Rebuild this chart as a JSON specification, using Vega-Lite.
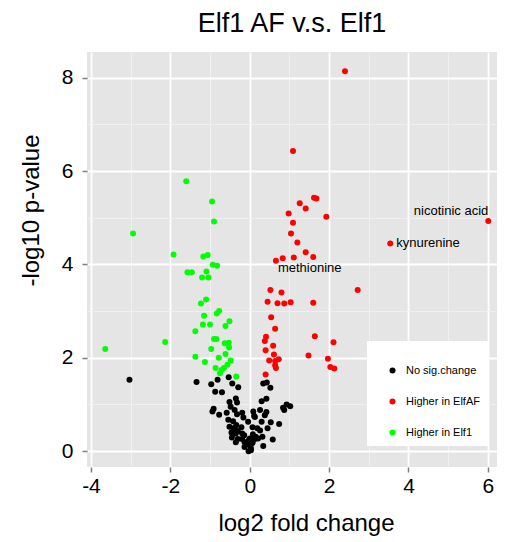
{
  "$schema": "https://vega.github.io/schema/vega-lite/v6.json",
  "width": 410,
  "height": 415,
  "autosize": {"type": "none"},
  "padding": {"left": 87, "top": 52, "right": 10, "bottom": 75},
  "background": "white",
  "title": {"text": "Elf1 AF v.s. Elf1", "fontSize": 27, "font": "Liberation Sans", "fontWeight": "normal", "color": "black", "anchor": "middle", "offset": 14},
  "config": {"view": {"fill": "#E5E5E5", "stroke": null}, "font": "Liberation Sans"},
  "data": {"values": [
    {"lfc": -1.60, "p": 5.78, "group": "Higher in Elf1"},
    {"lfc": -0.95, "p": 5.35, "group": "Higher in Elf1"},
    {"lfc": -0.90, "p": 4.92, "group": "Higher in Elf1"},
    {"lfc": -2.94, "p": 4.66, "group": "Higher in Elf1"},
    {"lfc": -1.92, "p": 4.21, "group": "Higher in Elf1"},
    {"lfc": -1.17, "p": 4.17, "group": "Higher in Elf1"},
    {"lfc": -1.06, "p": 4.20, "group": "Higher in Elf1"},
    {"lfc": -0.93, "p": 3.99, "group": "Higher in Elf1"},
    {"lfc": -0.82, "p": 3.97, "group": "Higher in Elf1"},
    {"lfc": -1.57, "p": 3.83, "group": "Higher in Elf1"},
    {"lfc": -1.46, "p": 3.83, "group": "Higher in Elf1"},
    {"lfc": -1.09, "p": 3.85, "group": "Higher in Elf1"},
    {"lfc": -1.20, "p": 3.72, "group": "Higher in Elf1"},
    {"lfc": -1.04, "p": 3.72, "group": "Higher in Elf1"},
    {"lfc": -1.10, "p": 3.25, "group": "Higher in Elf1"},
    {"lfc": -1.23, "p": 3.16, "group": "Higher in Elf1"},
    {"lfc": -0.83, "p": 2.95, "group": "Higher in Elf1"},
    {"lfc": -0.77, "p": 3.00, "group": "Higher in Elf1"},
    {"lfc": -1.15, "p": 2.90, "group": "Higher in Elf1"},
    {"lfc": -1.18, "p": 2.71, "group": "Higher in Elf1"},
    {"lfc": -1.00, "p": 2.71, "group": "Higher in Elf1"},
    {"lfc": -0.51, "p": 2.78, "group": "Higher in Elf1"},
    {"lfc": -0.61, "p": 2.68, "group": "Higher in Elf1"},
    {"lfc": -1.37, "p": 2.57, "group": "Higher in Elf1"},
    {"lfc": -2.13, "p": 2.34, "group": "Higher in Elf1"},
    {"lfc": -0.90, "p": 2.40, "group": "Higher in Elf1"},
    {"lfc": -0.84, "p": 2.40, "group": "Higher in Elf1"},
    {"lfc": -0.63, "p": 2.31, "group": "Higher in Elf1"},
    {"lfc": -0.53, "p": 2.32, "group": "Higher in Elf1"},
    {"lfc": -0.52, "p": 2.22, "group": "Higher in Elf1"},
    {"lfc": -0.97, "p": 2.19, "group": "Higher in Elf1"},
    {"lfc": -3.64, "p": 2.19, "group": "Higher in Elf1"},
    {"lfc": -0.61, "p": 2.08, "group": "Higher in Elf1"},
    {"lfc": -1.37, "p": 2.02, "group": "Higher in Elf1"},
    {"lfc": -0.78, "p": 2.00, "group": "Higher in Elf1"},
    {"lfc": -0.48, "p": 1.94, "group": "Higher in Elf1"},
    {"lfc": -1.13, "p": 1.91, "group": "Higher in Elf1"},
    {"lfc": -0.56, "p": 1.85, "group": "Higher in Elf1"},
    {"lfc": -0.86, "p": 1.78, "group": "Higher in Elf1"},
    {"lfc": -0.65, "p": 1.78, "group": "Higher in Elf1"},
    {"lfc": -0.71, "p": 1.74, "group": "Higher in Elf1"},
    {"lfc": -0.75, "p": 1.67, "group": "Higher in Elf1"},
    {"lfc": -0.34, "p": 1.60, "group": "Higher in Elf1"},
    {"lfc": 2.40, "p": 8.14, "group": "Higher in ElfAF"},
    {"lfc": 1.09, "p": 6.43, "group": "Higher in ElfAF"},
    {"lfc": 6.01, "p": 4.93, "group": "Higher in ElfAF", "label": "nicotinic acid"},
    {"lfc": 3.54, "p": 4.45, "group": "Higher in ElfAF", "label": "kynurenine"},
    {"lfc": 1.26, "p": 5.31, "group": "Higher in ElfAF"},
    {"lfc": 1.62, "p": 5.43, "group": "Higher in ElfAF"},
    {"lfc": 1.68, "p": 5.41, "group": "Higher in ElfAF"},
    {"lfc": 1.41, "p": 5.20, "group": "Higher in ElfAF"},
    {"lfc": 0.98, "p": 5.09, "group": "Higher in ElfAF"},
    {"lfc": 1.93, "p": 5.02, "group": "Higher in ElfAF"},
    {"lfc": 1.09, "p": 4.89, "group": "Higher in ElfAF"},
    {"lfc": 1.04, "p": 4.66, "group": "Higher in ElfAF"},
    {"lfc": 1.20, "p": 4.47, "group": "Higher in ElfAF"},
    {"lfc": 1.41, "p": 4.26, "group": "Higher in ElfAF"},
    {"lfc": 1.60, "p": 4.16, "group": "Higher in ElfAF"},
    {"lfc": 1.11, "p": 4.15, "group": "Higher in ElfAF"},
    {"lfc": 0.83, "p": 4.13, "group": "Higher in ElfAF"},
    {"lfc": 0.66, "p": 4.08, "group": "Higher in ElfAF", "label": "methionine"},
    {"lfc": 0.52, "p": 3.45, "group": "Higher in ElfAF"},
    {"lfc": 2.72, "p": 3.45, "group": "Higher in ElfAF"},
    {"lfc": 0.80, "p": 3.40, "group": "Higher in ElfAF"},
    {"lfc": 0.45, "p": 3.20, "group": "Higher in ElfAF"},
    {"lfc": 0.70, "p": 3.17, "group": "Higher in ElfAF"},
    {"lfc": 0.87, "p": 3.16, "group": "Higher in ElfAF"},
    {"lfc": 1.03, "p": 3.19, "group": "Higher in ElfAF"},
    {"lfc": 1.60, "p": 3.18, "group": "Higher in ElfAF"},
    {"lfc": 0.54, "p": 2.87, "group": "Higher in ElfAF"},
    {"lfc": 0.64, "p": 2.62, "group": "Higher in ElfAF"},
    {"lfc": 0.41, "p": 2.45, "group": "Higher in ElfAF"},
    {"lfc": 0.38, "p": 2.36, "group": "Higher in ElfAF"},
    {"lfc": 1.64, "p": 2.46, "group": "Higher in ElfAF"},
    {"lfc": 2.11, "p": 2.33, "group": "Higher in ElfAF"},
    {"lfc": 0.59, "p": 2.26, "group": "Higher in ElfAF"},
    {"lfc": 0.40, "p": 2.16, "group": "Higher in ElfAF"},
    {"lfc": 0.61, "p": 2.07, "group": "Higher in ElfAF"},
    {"lfc": 1.48, "p": 2.05, "group": "Higher in ElfAF"},
    {"lfc": 0.49, "p": 1.94, "group": "Higher in ElfAF"},
    {"lfc": 0.73, "p": 1.97, "group": "Higher in ElfAF"},
    {"lfc": 0.64, "p": 1.93, "group": "Higher in ElfAF"},
    {"lfc": 1.97, "p": 1.98, "group": "Higher in ElfAF"},
    {"lfc": 0.64, "p": 1.84, "group": "Higher in ElfAF"},
    {"lfc": 2.03, "p": 1.80, "group": "Higher in ElfAF"},
    {"lfc": 2.13, "p": 1.77, "group": "Higher in ElfAF"},
    {"lfc": 0.66, "p": 1.78, "group": "Higher in ElfAF"},
    {"lfc": 0.40, "p": 1.64, "group": "Higher in ElfAF"},
    {"lfc": -3.03, "p": 1.53, "group": "No sig.change"},
    {"lfc": -1.34, "p": 1.48, "group": "No sig.change"},
    {"lfc": -0.81, "p": 1.53, "group": "No sig.change"},
    {"lfc": -0.53, "p": 1.58, "group": "No sig.change"},
    {"lfc": -0.97, "p": 1.43, "group": "No sig.change"},
    {"lfc": -0.44, "p": 1.45, "group": "No sig.change"},
    {"lfc": -0.29, "p": 1.37, "group": "No sig.change"},
    {"lfc": -0.87, "p": 1.27, "group": "No sig.change"},
    {"lfc": -0.70, "p": 1.26, "group": "No sig.change"},
    {"lfc": 0.34, "p": 1.45, "group": "No sig.change"},
    {"lfc": 0.43, "p": 1.47, "group": "No sig.change"},
    {"lfc": 0.52, "p": 1.36, "group": "No sig.change"},
    {"lfc": 0.42, "p": 1.12, "group": "No sig.change"},
    {"lfc": 0.30, "p": 1.07, "group": "No sig.change"},
    {"lfc": -0.35, "p": 1.13, "group": "No sig.change"},
    {"lfc": -0.51, "p": 1.05, "group": "No sig.change"},
    {"lfc": -0.32, "p": 1.04, "group": "No sig.change"},
    {"lfc": 0.84, "p": 0.93, "group": "No sig.change"},
    {"lfc": 0.93, "p": 1.00, "group": "No sig.change"},
    {"lfc": 1.02, "p": 0.96, "group": "No sig.change"},
    {"lfc": 0.87, "p": 0.88, "group": "No sig.change"},
    {"lfc": -0.91, "p": 0.91, "group": "No sig.change"},
    {"lfc": -0.94, "p": 0.85, "group": "No sig.change"},
    {"lfc": -0.77, "p": 0.78, "group": "No sig.change"},
    {"lfc": -0.58, "p": 0.82, "group": "No sig.change"},
    {"lfc": -0.48, "p": 0.95, "group": "No sig.change"},
    {"lfc": -0.38, "p": 0.88, "group": "No sig.change"},
    {"lfc": -0.32, "p": 0.79, "group": "No sig.change"},
    {"lfc": -0.19, "p": 0.82, "group": "No sig.change"},
    {"lfc": -0.16, "p": 0.72, "group": "No sig.change"},
    {"lfc": 0.09, "p": 0.85, "group": "No sig.change"},
    {"lfc": 0.11, "p": 0.75, "group": "No sig.change"},
    {"lfc": 0.26, "p": 0.88, "group": "No sig.change"},
    {"lfc": 0.42, "p": 0.84, "group": "No sig.change"},
    {"lfc": 0.38, "p": 0.77, "group": "No sig.change"},
    {"lfc": 0.30, "p": 0.63, "group": "No sig.change"},
    {"lfc": 0.53, "p": 0.62, "group": "No sig.change"},
    {"lfc": 0.74, "p": 0.58, "group": "No sig.change"},
    {"lfc": -0.54, "p": 0.67, "group": "No sig.change"},
    {"lfc": -0.42, "p": 0.64, "group": "No sig.change"},
    {"lfc": -0.34, "p": 0.56, "group": "No sig.change"},
    {"lfc": -0.51, "p": 0.52, "group": "No sig.change"},
    {"lfc": -0.40, "p": 0.46, "group": "No sig.change"},
    {"lfc": -0.21, "p": 0.51, "group": "No sig.change"},
    {"lfc": -0.04, "p": 0.63, "group": "No sig.change"},
    {"lfc": 0.07, "p": 0.51, "group": "No sig.change"},
    {"lfc": 0.19, "p": 0.49, "group": "No sig.change"},
    {"lfc": 0.26, "p": 0.44, "group": "No sig.change"},
    {"lfc": 0.45, "p": 0.49, "group": "No sig.change"},
    {"lfc": -0.35, "p": 0.38, "group": "No sig.change"},
    {"lfc": -0.19, "p": 0.38, "group": "No sig.change"},
    {"lfc": -0.14, "p": 0.34, "group": "No sig.change"},
    {"lfc": 0.08, "p": 0.36, "group": "No sig.change"},
    {"lfc": -0.45, "p": 0.29, "group": "No sig.change"},
    {"lfc": -0.30, "p": 0.26, "group": "No sig.change"},
    {"lfc": -0.19, "p": 0.26, "group": "No sig.change"},
    {"lfc": 0.00, "p": 0.27, "group": "No sig.change"},
    {"lfc": 0.08, "p": 0.29, "group": "No sig.change"},
    {"lfc": 0.21, "p": 0.27, "group": "No sig.change"},
    {"lfc": 0.32, "p": 0.31, "group": "No sig.change"},
    {"lfc": 0.58, "p": 0.25, "group": "No sig.change"},
    {"lfc": -0.35, "p": 0.19, "group": "No sig.change"},
    {"lfc": -0.13, "p": 0.19, "group": "No sig.change"},
    {"lfc": -0.08, "p": 0.19, "group": "No sig.change"},
    {"lfc": 0.06, "p": 0.17, "group": "No sig.change"},
    {"lfc": 0.08, "p": 0.20, "group": "No sig.change"},
    {"lfc": -0.05, "p": 0.14, "group": "No sig.change"},
    {"lfc": -0.13, "p": 0.09, "group": "No sig.change"},
    {"lfc": 0.03, "p": 0.06, "group": "No sig.change"},
    {"lfc": 0.34, "p": 0.11, "group": "No sig.change"},
    {"lfc": -0.03, "p": 0.00, "group": "No sig.change"},
    {"lfc": 0.03, "p": 0.02, "group": "No sig.change"},
    {"lfc": 0.13, "p": 0.26, "group": "No sig.change"},
    {"lfc": 0.04, "p": 0.23, "group": "No sig.change"},
    {"lfc": 0.15, "p": 0.31, "group": "No sig.change"},
    {"lfc": -0.02, "p": 0.24, "group": "No sig.change"},
    {"lfc": -0.38, "p": 0.50, "group": "No sig.change"},
    {"lfc": -0.30, "p": 0.43, "group": "No sig.change"},
    {"lfc": -0.46, "p": 0.40, "group": "No sig.change"},
    {"lfc": 0.13, "p": 0.73, "group": "No sig.change"}
  ]},
  "encoding": {
    "x": {"field": "lfc", "type": "quantitative",
      "scale": {"domain": [-4.1, 6.23], "nice": false, "zero": false},
      "axis": {
        "title": "log2 fold change", "titleFontSize": 24, "titleFontWeight": "normal", "titleColor": "black",
        "titleX": 219, "titleY": 44, "titleBaseline": "top", "titleAlign": "center",
        "values": [-4, -3, -2, -1, 0, 1, 2, 3, 4, 5, 6],
        "labelExpr": "datum.value % 2 === 0 ? toString(datum.value) : ''",
        "labelFontSize": 21, "labelColor": "black", "labelPadding": 3,
        "domain": false, "tickColor": "#7f7f7f", "tickSize": 5, "tickWidth": 1.5,
        "tickOpacity": {"condition": {"test": "datum.value % 2 !== 0", "value": 0}, "value": 1},
        "gridColor": {"condition": {"test": "datum.value % 2 !== 0", "value": "#F2F2F2"}, "value": "#FFFFFF"},
        "gridWidth": {"condition": {"test": "datum.value % 2 !== 0", "value": 0.8}, "value": 1.8}
      }},
    "y": {"field": "p", "type": "quantitative",
      "scale": {"domain": [-0.34, 8.55], "nice": false, "zero": false},
      "axis": {
        "title": "-log10 p-value", "titleFontSize": 24, "titleFontWeight": "normal", "titleColor": "black",
        "titleX": -44, "titleY": 158, "titleAngle": 270, "titleBaseline": "bottom", "titleAlign": "center",
        "values": [0, 1, 2, 3, 4, 5, 6, 7, 8],
        "labelExpr": "datum.value % 2 === 0 ? toString(datum.value) : ''",
        "labelFontSize": 21, "labelColor": "black", "labelPadding": 9,
        "domain": false, "tickColor": "#7f7f7f", "tickSize": 5, "tickWidth": 1.5,
        "tickOpacity": {"condition": {"test": "datum.value % 2 !== 0", "value": 0}, "value": 1},
        "gridColor": {"condition": {"test": "datum.value % 2 !== 0", "value": "#F2F2F2"}, "value": "#FFFFFF"},
        "gridWidth": {"condition": {"test": "datum.value % 2 !== 0", "value": 0.8}, "value": 1.8}
      }}
  },
  "layer": [
    {"mark": {"type": "circle", "size": 36, "opacity": 1},
      "encoding": {
        "color": {"field": "group", "type": "nominal",
          "scale": {"domain": ["No sig.change", "Higher in ElfAF", "Higher in Elf1"], "range": ["#000000", "#FF0000", "#00FF00"]},
          "legend": {"title": " ", "titleFontSize": 12, "titlePadding": 4, "orient": "none", "legendX": 280, "legendY": 289, "fillColor": "white", "padding": 8,
            "symbolOffset": 12, "symbolSize": 36, "symbolType": "circle", "labelFontSize": 11, "labelColor": "black", "labelOffset": 8, "rowPadding": 19}
        }
      }},
    {"transform": [{"filter": "datum.label === 'nicotinic acid'"}],
      "mark": {"type": "text", "align": "right", "baseline": "alphabetic", "dy": -6, "fontSize": 13, "color": "black"},
      "encoding": {"text": {"field": "label"}}},
    {"transform": [{"filter": "datum.label === 'kynurenine'"}],
      "mark": {"type": "text", "align": "left", "baseline": "middle", "dx": 6, "fontSize": 13, "color": "black"},
      "encoding": {"text": {"field": "label"}}},
    {"transform": [{"filter": "datum.label === 'methionine'"}],
      "mark": {"type": "text", "align": "left", "baseline": "middle", "dx": 2, "dy": 7, "fontSize": 13, "color": "black"},
      "encoding": {"text": {"field": "label"}}}
  ]
}
